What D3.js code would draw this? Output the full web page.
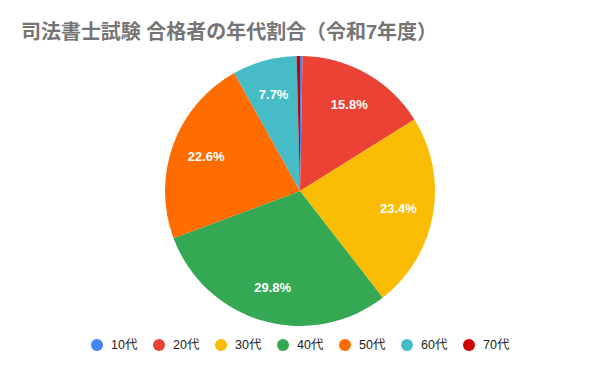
<!DOCTYPE html>
<html>
<head>
<meta charset="utf-8">
<script src="https://cdn.jsdelivr.net/npm/d3@7"></script>
<style>
  body { margin: 0; background: #fff; }
  svg { display: block; }
</style>
</head>
<body>
<svg width="600" height="371"></svg>
<script>
// Chart data
const categories = ["10代", "20代", "30代", "40代", "50代", "60代", "70代"];
const shares = [0.3, 15.8, 23.4, 29.8, 22.6, 7.7, 0.4];
const colors = ["#4285f4", "#ea4335", "#fbbc04", "#34a853", "#ff6d01", "#46bdc6", "#cc0000"];
const title = "司法書士試験 合格者の年代割合（令和7年度）";

const svg = d3.select("svg");
const font = "'Liberation Sans', Arial, 'Noto Sans CJK JP', sans-serif";

svg.append("rect").attr("width", 600).attr("height", 371).attr("fill", "#fff");

// Title
svg.append("text")
    .attr("x", 21)
    .attr("y", 39)
    .attr("font-family", "'Liberation Sans', 'Noto Sans CJK JP', sans-serif")
    .attr("font-size", 20)
    .attr("font-weight", "bold")
    .attr("fill", "#757575")
    .attr("textLength", 416)
    .attr("lengthAdjust", "spacing")
    .text(title);

const data = categories.map((c, i) => ({ name: c, value: shares[i], color: colors[i] }));

const cx = 300, cy = 191, radius = 135;
const pie = d3.pie().value(d => d.value).sort(null);
const arc = d3.arc().innerRadius(0).outerRadius(radius);
const labelArc = d3.arc().innerRadius(100).outerRadius(100);

const g = svg.append("g").attr("transform", `translate(${cx}, ${cy})`);
const arcs = pie(data);

g.selectAll("path")
    .data(arcs)
    .enter().append("path")
    .attr("d", arc)
    .attr("fill", d => d.data.color);

// Percentage labels (only slices large enough)
g.selectAll(".lbl")
    .data(arcs.filter(d => d.data.value >= 5))
    .enter().append("text")
    .attr("class", "lbl")
    .attr("transform", d => `translate(${labelArc.centroid(d)})`)
    .attr("text-anchor", "middle")
    .attr("dy", "0.35em")
    .attr("font-family", font)
    .attr("font-size", 13)
    .attr("font-weight", "bold")
    .attr("fill", "#fff")
    .text(d => d.data.value.toFixed(1) + "%");

// Legend
const legendX = d3.scalePoint()
    .domain(categories)
    .range([97, 469]);

const legend = svg.append("g").selectAll("g")
    .data(data)
    .enter().append("g")
    .attr("transform", d => `translate(${legendX(d.name)}, 345)`);

legend.append("circle")
    .attr("r", 6)
    .attr("fill", d => d.color);

legend.append("text")
    .attr("x", 14)
    .attr("dy", "0.35em")
    .attr("font-family", font)
    .attr("font-size", 12.5)
    .attr("fill", "#222")
    .text(d => d.name);
</script>
</body>
</html>
